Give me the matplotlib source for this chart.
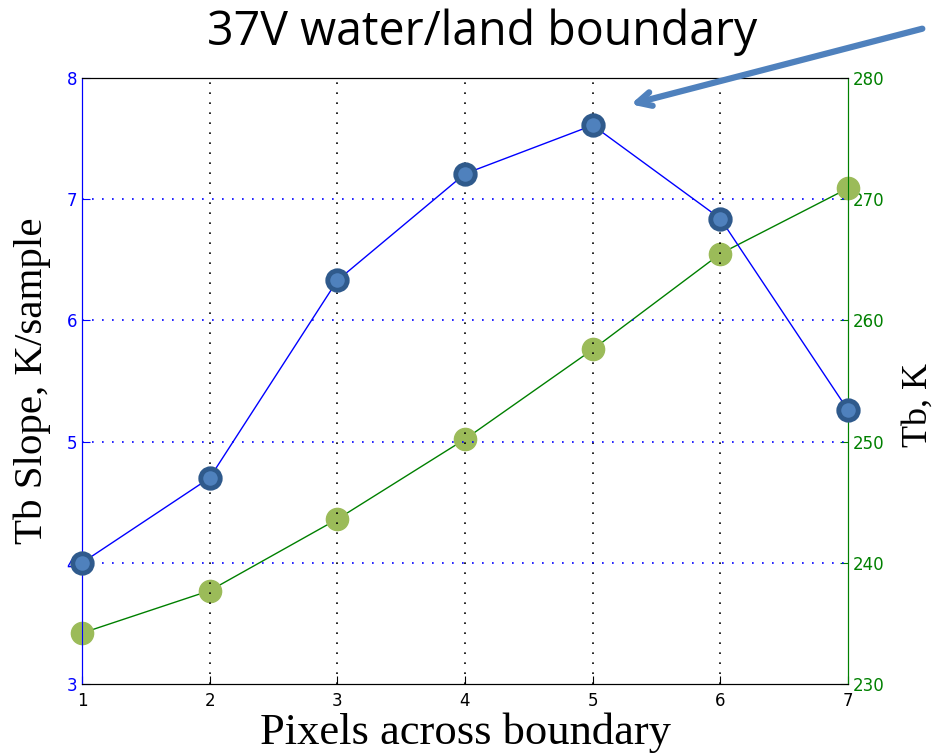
import matplotlib
matplotlib.use("Agg")
import matplotlib.pyplot as plt

pixels = [1, 2, 3, 4, 5, 6, 7]
slope = [4.0, 4.70, 6.33, 7.21, 7.61, 6.84, 5.26]
tb = [234.2, 237.7, 243.6, 250.2, 257.6, 265.5, 270.9]
left_ticks = [3, 4, 5, 6, 7, 8]
right_ticks = [230, 240, 250, 260, 270, 280]

W, H = 937, 754
fig = plt.figure(figsize=(W / 100, H / 100), dpi=100)
ax = fig.add_axes([82 / W, 1 - 684 / H, (848 - 82) / W, (684 - 78) / H])
ax2 = ax.twinx()

ax.set_xlim(1, 7)
ax.set_ylim(3, 8)
ax2.set_ylim(230, 280)
ax.set_xticks(pixels)
ax.set_yticks(left_ticks)
ax2.set_yticks(right_ticks)

# grids
for x in pixels[1:-1]:
    ax.axvline(x, color='black', linestyle=(0, (1, 5)), linewidth=1.2, zorder=0)
for y in left_ticks[1:-1]:
    ax.axhline(y, color='blue', linestyle=(0, (1, 5)), linewidth=1.2, zorder=0)

ax.plot(pixels, slope, color='blue', linewidth=1, marker='o', markersize=14,
        markerfacecolor='#4F81BD', markeredgecolor='#2F5A8C', markeredgewidth=3.5,
        zorder=5, clip_on=False)
ax2.plot(pixels, tb, color='#008000', linewidth=1, marker='o', markersize=16,
         markerfacecolor='#9BBB59', markeredgecolor='#9BBB59', zorder=5, clip_on=False)
ax.set_zorder(ax2.get_zorder() + 1)
ax.patch.set_visible(False)

ax.spines['left'].set_color('blue')
ax2.spines['left'].set_color('blue')
ax.spines['right'].set_color('#008000')
ax2.spines['right'].set_color('#008000')
for s in ['top', 'bottom']:
    ax.spines[s].set_color('black')
    ax2.spines[s].set_color('black')

ax.tick_params(axis='x', direction='in', length=6, colors='black', labelsize=12, pad=6)
ax.tick_params(axis='y', direction='in', length=6, colors='blue', labelsize=12)
ax2.tick_params(axis='y', direction='in', length=6, colors='#008000', labelsize=12)

ax.set_ylabel('Tb Slope, K/sample', family='Liberation Serif', fontsize=29.5)
ax.yaxis.set_label_coords(-50 / (848 - 82), 0.5)
ax.yaxis.label.set_va('center')
ax2.set_ylabel('Tb, K', family='Liberation Serif', fontsize=26, rotation=90)
ax2.yaxis.set_label_coords(1 + 70 / (848 - 82), 1 - (405 - 78) / (684 - 78))
ax2.yaxis.label.set_va('center')
ax.set_xlabel('Pixels across boundary', family='Liberation Serif', fontsize=32)
ax.xaxis.set_label_coords(0.5, -(733 - 684) / (684 - 78))
ax.xaxis.label.set_va('center')

fig.text(482 / W, 1 - 32 / H, '37V water/land boundary', family='Open Sans',
         fontsize=33.5, ha='center', va='center')

ax.annotate('', xy=(628, H - 105), xytext=(925, H - 28),
            xycoords='figure pixels', textcoords='figure pixels',
            arrowprops=dict(arrowstyle='->,head_length=1.0,head_width=0.5',
                            color='#4F81BD', linewidth=4.5))

fig.savefig('out.png', dpi=100)
